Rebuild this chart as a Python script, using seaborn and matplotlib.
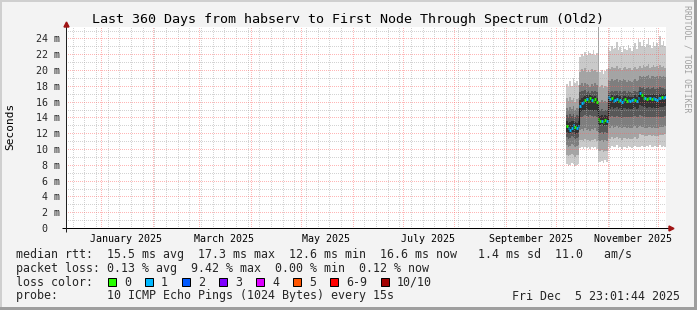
import matplotlib
matplotlib.use("Agg")
import pandas as pd
import matplotlib.pyplot as plt
import matplotlib.dates as mdates
from matplotlib.ticker import MultipleLocator, NullFormatter
from matplotlib.patches import Rectangle
import seaborn as sns

# ---------------- data ----------------
title = "Last 360 Days from habserv to First Node Through Spectrum (Old2)"
range_start = "2024-12-10 23:01:44"
range_end = "2025-12-05 23:01:44"
first_day = "2025-10-07"

median_ms = [12.9, 12.6, 12.4, 12.7, 13.0, 12.8, 12.6, 12.9,
             15.4, 15.8, 16.0, 16.2, 16.3, 16.1, 16.4, 16.2, 16.1, 16.3, 16.0,
             13.8, 13.5, 13.6, 13.4, 13.7, 13.5,
             16.6, 16.3, 16.4, 16.1, 16.2, 16.3, 16.1, 16.2, 16.0, 16.2, 16.3, 16.1, 16.2, 16.1, 16.2, 16.3, 16.2, 16.1, 16.4,
             17.1, 16.8, 16.5, 16.4, 16.3, 16.4, 16.5, 16.3, 16.4, 16.3, 16.2, 16.4, 16.5, 16.6, 16.5, 16.6]
loss_pings = [0, 1, 1, 1, 1, 0, 1, 1,
              1, 1, 1, 0, 1, 0, 0, 1, 0, 0, 0,
              0, 0, 1, 0, 0, 1,
              1, 1, 0, 1, 1, 1, 0, 1, 1, 1, 0, 0, 1, 1, 1, 1, 0, 1, 1,
              1, 0, 0, 1, 0, 0, 1, 0, 1, 1, 1, 1, 1, 0, 1, 1]
ping10 = [18.2, 17.9, 18.6, 18.0, 19.0, 18.3, 18.6, 18.1,
          21.6, 22.0, 21.8, 22.3, 21.9, 22.4, 22.1, 22.0, 22.5, 21.9, 22.2,
          40.0, 19.8, 20.0, 19.5, 19.9, 20.1,
          22.9, 22.4, 23.1, 22.6, 22.8, 23.6, 22.5, 22.9, 22.3, 23.0, 22.7, 22.5, 23.2, 22.8, 22.4, 22.9, 23.4, 22.6, 23.9,
          23.5, 23.0, 23.8, 22.9, 23.3, 24.1, 23.2, 22.8, 23.6, 23.1, 23.4, 22.9, 24.3, 23.2, 23.7, 23.0]
ping09 = [16.4, 16.1, 16.6, 16.2, 16.5, 16.0, 16.3, 16.4,
          19.8, 20.1, 19.9, 20.2, 19.8, 20.0, 19.7, 20.1, 19.9, 20.0, 19.8,
          40.0, 17.9, 18.1, 17.7, 18.0, 17.8,
          20.3, 20.1, 20.4, 20.2, 20.3, 20.5, 20.1, 20.3, 20.0, 20.2, 20.4, 20.1, 20.3, 20.2, 20.0, 20.3, 20.4, 20.1, 20.3,
          20.5, 20.3, 20.6, 20.4, 20.5, 20.7, 20.3, 20.4, 20.6, 20.4, 20.5, 20.3, 20.6, 20.4, 20.5, 20.3]
ping08 = [15.2, 15.0, 15.3, 15.1, 15.4, 15.0, 15.2, 15.1,
          18.1, 18.3, 18.0, 18.4, 18.2, 18.1, 17.9, 18.2, 18.0, 18.3, 18.1,
          16.1, 16.0, 16.2, 15.9, 16.1, 16.0,
          18.7, 18.6, 18.8, 18.6, 18.7, 18.9, 18.5, 18.7, 18.6, 18.8, 18.7, 18.5, 18.7, 18.6, 18.5, 18.7, 18.8, 18.6, 18.7,
          19.2, 19.1, 19.3, 19.1, 19.2, 19.4, 19.0, 19.2, 19.3, 19.1, 19.2, 19.0, 19.3, 19.1, 19.2, 19.1]
ping07 = [14.3, 14.1, 14.4, 14.2, 14.4, 14.0, 14.3, 14.2,
          17.2, 17.4, 17.3, 17.5, 17.2, 17.3, 17.1, 17.4, 17.2, 17.3, 17.2,
          15.0, 14.9, 15.1, 14.8, 15.0, 15.0,
          17.3, 17.2, 17.4, 17.2, 17.3, 17.4, 17.1, 17.3, 17.2, 17.3, 17.3, 17.1, 17.3, 17.2, 17.1, 17.3, 17.4, 17.2, 17.3,
          17.9, 17.7, 17.8, 17.6, 17.7, 17.9, 17.6, 17.7, 17.8, 17.6, 17.7, 17.6, 17.8, 17.7, 17.7, 17.6]
ping06 = [13.5, 13.3, 13.4, 13.5, 13.6, 13.4, 13.3, 13.5,
          16.2, 16.5, 16.6, 16.7, 16.8, 16.6, 16.8, 16.7, 16.6, 16.7, 16.5,
          14.3, 14.2, 14.3, 14.1, 14.3, 14.2,
          16.9, 16.6, 16.8, 16.6, 16.7, 16.8, 16.6, 16.7, 16.5, 16.7, 16.7, 16.6, 16.7, 16.6, 16.6, 16.7, 16.8, 16.6, 16.8,
          17.4, 17.0, 16.9, 16.8, 16.8, 16.9, 16.8, 16.8, 16.9, 16.8, 16.8, 16.7, 16.9, 16.9, 16.9, 16.9]
ping05 = [12.1, 11.9, 12.0, 12.2, 12.1, 11.9, 12.0, 12.1,
          14.7, 14.8, 14.9, 15.0, 15.1, 14.9, 15.0, 14.9, 14.8, 15.0, 14.8,
          13.1, 13.0, 13.2, 12.9, 13.1, 13.0,
          15.2, 15.1, 15.3, 15.1, 15.2, 15.3, 15.1, 15.2, 15.0, 15.2, 15.2, 15.1, 15.2, 15.1, 15.1, 15.2, 15.3, 15.1, 15.2,
          15.6, 15.4, 15.3, 15.3, 15.2, 15.3, 15.3, 15.2, 15.3, 15.2, 15.2, 15.2, 15.3, 15.3, 15.3, 15.4]
ping04 = [11.5, 11.3, 11.4, 11.6, 11.5, 11.3, 11.4, 11.5,
          14.0, 14.1, 14.2, 14.3, 14.2, 14.1, 14.3, 14.2, 14.1, 14.2, 14.0,
          12.1, 12.0, 12.2, 11.9, 12.1, 12.0,
          14.1, 14.0, 14.2, 14.0, 14.1, 14.2, 14.0, 14.1, 13.9, 14.1, 14.1, 14.0, 14.1, 14.0, 14.0, 14.1, 14.2, 14.0, 14.1,
          14.3, 14.2, 14.1, 14.1, 14.0, 14.1, 14.1, 14.0, 14.1, 14.0, 14.0, 14.0, 14.1, 14.1, 14.1, 14.2]
ping03 = [10.5, 10.3, 10.4, 10.6, 10.5, 10.2, 10.4, 10.5,
          12.4, 12.5, 12.3, 12.6, 12.4, 12.5, 12.3, 12.5, 12.4, 12.6, 12.3,
          11.1, 11.0, 11.2, 10.9, 11.1, 11.0,
          12.8, 12.7, 12.9, 12.7, 12.8, 12.9, 12.7, 12.8, 12.6, 12.8, 12.8, 12.7, 12.8, 12.7, 12.7, 12.8, 12.9, 12.7, 12.8,
          12.9, 12.8, 12.8, 12.7, 12.7, 12.8, 12.8, 12.7, 12.8, 12.7, 12.7, 12.7, 12.8, 12.8, 12.8, 12.9]
ping02 = [9.3, 9.1, 9.2, 9.4, 9.3, 9.0, 9.2, 9.3,
          11.1, 11.2, 11.0, 11.3, 11.1, 11.2, 11.0, 11.2, 11.1, 11.3, 11.0,
          9.8, 9.7, 9.9, 9.6, 9.8, 9.7,
          11.4, 11.3, 11.5, 11.3, 11.4, 11.5, 11.3, 11.4, 11.2, 11.4, 11.4, 11.3, 11.4, 11.3, 11.3, 11.4, 11.5, 11.3, 11.4,
          11.9, 11.8, 11.8, 11.7, 11.7, 11.8, 11.8, 11.7, 11.8, 11.7, 11.7, 11.7, 11.8, 11.8, 11.8, 11.9]
ping01 = [8.1, 7.9, 8.0, 8.2, 8.1, 7.9, 8.0, 8.1,
          10.1, 10.3, 10.0, 10.2, 10.1, 10.3, 10.0, 10.2, 10.1, 10.2, 10.0,
          8.4, 8.3, 8.5, 8.2, 8.6, 8.4,
          10.3, 10.1, 10.4, 10.2, 10.3, 10.5, 10.1, 10.3, 10.0, 10.3, 10.2, 10.1, 10.4, 10.2, 10.1, 10.3, 10.4, 10.2, 10.3,
          10.2, 10.4, 10.3, 10.2, 10.4, 10.3, 10.5, 10.2, 10.3, 10.4, 10.2, 10.3, 10.5, 10.3, 10.4, 10.3]

y_ticks = [0, 2, 4, 6, 8, 10, 12, 14, 16, 18, 20, 22, 24]
y_tick_labels = ["0  ", "2 m", "4 m", "6 m", "8 m", "10 m", "12 m", "14 m",
                 "16 m", "18 m", "20 m", "22 m", "24 m"]
month_labels = ["January 2025", "March 2025", "May 2025", "July 2025",
                "September 2025", "November 2025"]
month_label_months = ["2025-01-01", "2025-03-01", "2025-05-01", "2025-07-01",
                      "2025-09-01", "2025-11-01"]
loss_color_labels = ["0", "1", "2", "3", "4", "5", "6-9", "10/10"]
loss_colors = ["#26ff00", "#00b8ff", "#0059ff", "#7e00ff", "#dd00ff",
               "#ff5500", "#ff0000", "#a10000"]
smoke_shades = ["#cacaca", "#a4a4a4", "#7e7e7e", "#585858", "#323232"]

line_rtt = "median rtt:  15.5 ms avg  17.3 ms max  12.6 ms min  16.6 ms now   1.4 ms sd  11.0   am/s"
line_loss = "packet loss: 0.13 % avg  9.42 % max  0.00 % min  0.12 % now"
line_color = "loss color:"
line_probe = "probe:       10 ICMP Echo Pings (1024 Bytes) every 15s"
stamp = "Fri Dec  5 23:01:44 2025"
watermark = "RRDTOOL / TOBI OETIKER"
y_label = "Seconds"

# ---------------- figure ----------------
W, H = 697, 310
PX = 0.72  # points per pixel at 100 dpi

sns.set_style("white")
plt.rcParams["font.family"] = ["DejaVu Sans Mono"]
plt.rcParams["lines.scale_dashes"] = False

fig = plt.figure(figsize=(W / 100, H / 100), dpi=100)
fig.patch.set_facecolor("#f3f3f3")


def fx(x):
    return x / W


def fy(y):
    return 1 - y / H


ax = fig.add_axes([fx(66), fy(228), 600 / W, 201 / H])
ax.set_facecolor("white")

days = list(pd.date_range(first_day, periods=len(median_ms), freq="D"))
edges = days + [pd.Timestamp(range_end)]


def ext(a):
    return list(a) + [a[-1]]


lows = [ping01, ping02, ping03, ping04, ping05]
highs = [ping10, ping09, ping08, ping07, ping06]
for lo, hi, c in zip(lows, highs, smoke_shades):
    ax.fill_between(edges, ext(lo), ext(hi), step="post", color=c,
                    linewidth=0, antialiased=False, zorder=1)

df = pd.DataFrame({"t": edges, "median": ext(median_ms)})
sns.lineplot(data=df, x="t", y="median", drawstyle="steps-post",
             color="#1a1a1a", linewidth=0.8, ax=ax, zorder=2)


def loss_index(n):
    if n <= 5:
        return n
    if n < 10:
        return 6
    return 7


ax.hlines(median_ms, edges[:-1], edges[1:],
          colors=[loss_colors[loss_index(n)] for n in loss_pings],
          linewidth=2.0, zorder=3)

ax.set_xlim(pd.Timestamp(range_start), pd.Timestamp(range_end))
ax.set_ylim(0, 201 / 7.9)
ax.set_xlabel("")
ax.set_ylabel("")
ax.xaxis.set_major_locator(mdates.MonthLocator())
ax.xaxis.set_minor_locator(mdates.WeekdayLocator(byweekday=mdates.SU))
ax.xaxis.set_major_formatter(NullFormatter())
ax.xaxis.set_minor_formatter(NullFormatter())
ax.set_yticks(y_ticks, labels=y_tick_labels)
ax.yaxis.set_minor_locator(MultipleLocator(1))

dots = (0, (1 * PX, 2 * PX))
ax.grid(which="major", color="#ff5f5f", alpha=0.45, linestyle=dots,
        linewidth=PX, antialiased=False)
ax.grid(which="minor", color="#a8a8a8", alpha=0.5, linestyle=dots,
        linewidth=PX, antialiased=False)
ax.set_axisbelow(False)

for s in ax.spines.values():
    s.set_visible(False)

ax.tick_params(axis="y", which="major", direction="out", length=3 * PX,
               width=PX, color="#c06060", pad=3 * PX, labelsize=7.2)
ax.tick_params(axis="y", which="minor", length=0)
ax.tick_params(axis="x", which="major", direction="out", length=3 * PX,
               width=PX, color="#d07070", pad=1)
ax.tick_params(axis="x", which="minor", direction="out", length=2 * PX,
               width=PX, color="#b8b8b8")

# axis lines with arrows
ax.plot([-4 / 600, 1 + 3 / 600], [0, 0], transform=ax.transAxes, color="black",
        lw=PX, clip_on=False, zorder=6, solid_capstyle="butt")
ax.plot([0, 0], [-4 / 201, 1 + 2 / 201], transform=ax.transAxes, color="#202020",
        lw=PX, clip_on=False, zorder=6, solid_capstyle="butt")
ax.plot([1 + 5 / 600], [0], transform=ax.transAxes, marker=">", ms=5 * PX,
        color="#a01414", mec="#a01414", clip_on=False, zorder=7)
ax.plot([0], [1 + 3 / 201], transform=ax.transAxes, marker="^", ms=5 * PX,
        color="#a01414", mec="#a01414", clip_on=False, zorder=7)

xtr = ax.get_xaxis_transform()
for lab, m in zip(month_labels, month_label_months):
    xc = mdates.date2num(pd.Timestamp(m) + pd.Timedelta(days=15))
    ax.text(xc, -13.5 / 201, lab, transform=xtr, ha="center", va="baseline",
            fontsize=7.2, color="black")

# texts
fig.text(0.5, fy(23.5), title, ha="center", va="baseline", fontsize=9.6,
         color="black")
fig.text(fx(10), fy(126.5), y_label, rotation=90, ha="center", va="center",
         fontsize=8, color="black")
fig.text(fx(686.5), fy(59), watermark, rotation=270, ha="center", va="center",
         fontsize=5.9, color="#a0a0a0")

LFS = 8.4
fig.text(fx(16), fy(258), line_rtt, ha="left", va="baseline", fontsize=LFS)
fig.text(fx(16), fy(272), line_loss, ha="left", va="baseline", fontsize=LFS)
fig.text(fx(16), fy(285.7), line_color, ha="left", va="baseline", fontsize=LFS)
fig.text(fx(16), fy(299.5), line_probe, ha="left", va="baseline", fontsize=LFS)
fig.text(fx(680), fy(299.5), stamp, ha="right", va="baseline", fontsize=LFS)

bx = 108
for lab, col in zip(loss_color_labels, loss_colors):
    fig.patches.append(Rectangle((fx(bx), fy(285.5)), 8 / W, 8 / H,
                                 transform=fig.transFigure, facecolor=col,
                                 edgecolor="black", linewidth=PX))
    fig.text(fx(bx + 16), fy(285.7), lab, ha="left", va="baseline", fontsize=LFS)
    bx += 37 + 7 * (len(lab) - 1)

# frame shading
fig.patches.append(Rectangle((0, 0), 2 / W, 1, transform=fig.transFigure,
                             facecolor="#cfcfcf", edgecolor="none"))
fig.patches.append(Rectangle((0, 1 - 2 / H), 1, 2 / H, transform=fig.transFigure,
                             facecolor="#cfcfcf", edgecolor="none"))
fig.patches.append(Rectangle((1 - 3 / W, 0), 3 / W, 1, transform=fig.transFigure,
                             facecolor="#9e9e9e", edgecolor="none"))
fig.patches.append(Rectangle((0, 0), 1, 3 / H, transform=fig.transFigure,
                             facecolor="#9e9e9e", edgecolor="none"))

fig.savefig("out.png", dpi=100, facecolor=fig.get_facecolor())
